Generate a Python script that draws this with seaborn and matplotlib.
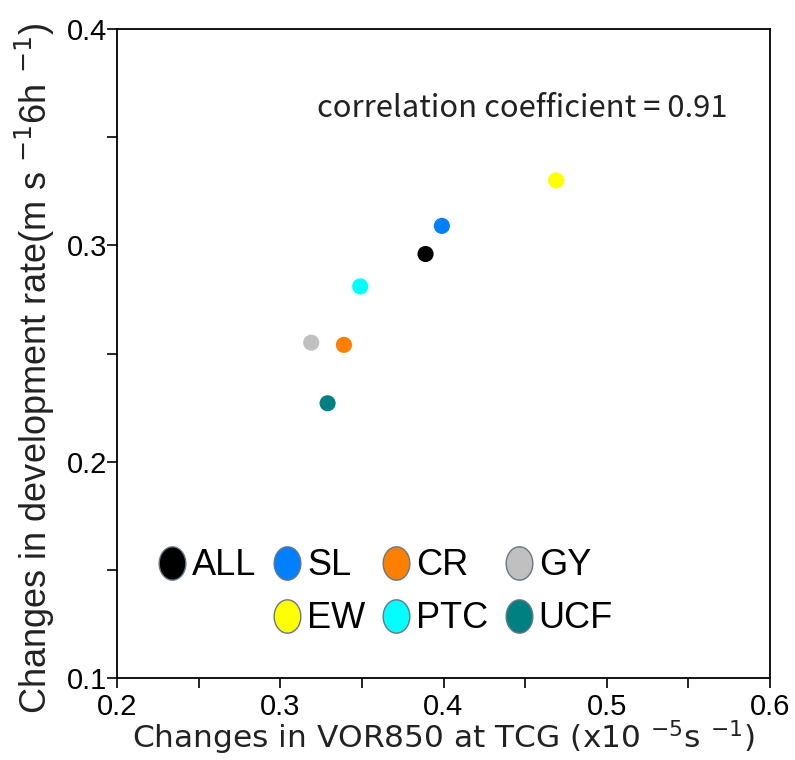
import numpy as np
import pandas as pd
import matplotlib
matplotlib.use("Agg")
import matplotlib.pyplot as plt
from matplotlib.lines import Line2D
from matplotlib.path import Path
from matplotlib.ticker import MultipleLocator
import seaborn as sns

# ---- data ----
groups = ["ALL", "SL", "CR", "GY", "EW", "PTC", "UCF"]
vor850_change = [0.389, 0.399, 0.339, 0.319, 0.469, 0.349, 0.329]
devrate_change = [0.296, 0.309, 0.254, 0.255, 0.330, 0.281, 0.227]
colors = ["#000000", "#0080FF", "#FF8000", "#C0C0C0", "#FFFF00", "#00FFFF", "#008080"]
corr_text = "correlation coefficient = 0.91"

df = pd.DataFrame({"group": groups, "x": vor850_change, "y": devrate_change})
palette = dict(zip(groups, colors))

sns.set_style("ticks")
plt.rcParams["font.family"] = ["Liberation Sans", "DejaVu Sans"]

fig = plt.figure(figsize=(7.95, 7.6), dpi=100)
ax = fig.add_axes([117 / 795, 1 - 678 / 760, (770 - 117) / 795, (678 - 29) / 760])

sns.scatterplot(data=df, x="x", y="y", hue="group", palette=palette, s=135,
                edgecolor="none", legend=False, ax=ax, zorder=3)

ax.set_xlim(0.2, 0.6)
ax.set_ylim(0.1, 0.4)
ax.xaxis.set_major_locator(MultipleLocator(0.1))
ax.xaxis.set_minor_locator(MultipleLocator(0.05))
ax.yaxis.set_major_locator(MultipleLocator(0.1))
ax.yaxis.set_minor_locator(MultipleLocator(0.05))
ax.tick_params(which="both", direction="out", length=7, width=1.2, color="black",
               labelcolor="black")
ax.tick_params(axis="x", which="major", labelsize=21, pad=4)
ax.tick_params(axis="y", which="major", labelsize=21, pad=0)
ax.tick_params(which="minor", labelsize=0)
ax.xaxis.set_major_formatter(matplotlib.ticker.FuncFormatter(lambda v, p: f"{v:.1f}"))
ax.yaxis.set_major_formatter(matplotlib.ticker.FuncFormatter(lambda v, p: f"{v:.1f}"))
for sp in ax.spines.values():
    sp.set_linewidth(1.3)
    sp.set_color("black")
    sp.set_visible(True)

ax.set_ylabel(r"Changes in development rate(m s $^{-1}$6h $^{-1}$)", fontsize=26,
              family=["Liberation Sans", "DejaVu Sans"], color="#222222")
ax.yaxis.set_label_coords(-0.092, 0.478)
ax.set_xlabel(r"Changes in VOR850 at TCG (x10 $^{-5}$s $^{-1}$)", fontsize=22.5,
              labelpad=-2, family=["DejaVu Sans"], color="#222222")

ax.text(0.935, 0.877, corr_text, transform=ax.transAxes, ha="right", va="center",
        fontsize=22.3, family=["Noto Sans CJK JP", "DejaVu Sans"], color="#222222")

# legend with elliptical markers, first column second row blank
t = np.linspace(0, 2 * np.pi, 60)
ell = Path(np.column_stack([0.4 * np.cos(t), 0.5 * np.sin(t)]), closed=True)

def handle(g):
    return Line2D([], [], linestyle="none", marker=ell, markersize=24,
                  markerfacecolor=palette[g], markeredgecolor="#667788",
                  markeredgewidth=1.0)

blank = Line2D([], [], linestyle="none", marker=None)
order = ["ALL", None, "SL", "EW", "CR", "PTC", "GY", "UCF"]
handles = [handle(g) if g else blank for g in order]
labels = [g if g else "" for g in order]
leg = ax.legend(handles, labels, ncol=4, loc="upper left",
                bbox_to_anchor=(0.057, 0.2), frameon=False, fontsize=26,
                handletextpad=0.05, columnspacing=0.35, labelspacing=0.5,
                handlelength=1.0, borderpad=0, borderaxespad=0)
for txt in leg.get_texts():
    txt.set_color("black")

fig.savefig("out.png", dpi=100)
